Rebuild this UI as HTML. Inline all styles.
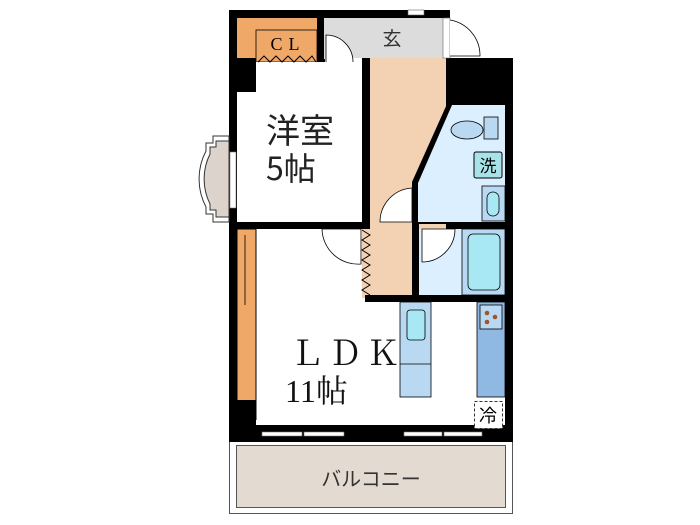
<!DOCTYPE html><html><head><meta charset="utf-8"><style>body{margin:0;background:#fff}svg{display:block}</style></head><body>
<svg width="700" height="525" viewBox="0 0 700 525" xmlns="http://www.w3.org/2000/svg" font-family="Liberation Serif, 'Noto Serif CJK SC', serif">
<rect x="229.5" y="440.5" width="283" height="73" fill="#fff" stroke="#555"/>
<rect x="236.5" y="445.5" width="269" height="62" fill="#e3dad1" stroke="#555"/>
<text x="371" y="486" font-size="20" text-anchor="middle" fill="#333" font-family="'Noto Sans CJK JP',sans-serif">バルコニー</text>
<rect x="229" y="10" width="221" height="52" fill="#000"/>
<rect x="229" y="10" width="9" height="432" fill="#000"/>
<rect x="443" y="58" width="70" height="384" fill="#000"/>
<rect x="229" y="425" width="284" height="17" fill="#000"/>
<rect x="237" y="18" width="80" height="44" fill="#f0a868"/>
<rect x="256" y="30" width="61" height="32" fill="#f0a868" stroke="#000" stroke-width="0.8"/>
<text x="288" y="50" font-size="18" text-anchor="middle" letter-spacing="6">CL</text>
<rect x="324" y="18" width="119" height="41" fill="#dcdcdc"/>
<text x="392" y="45" font-size="19" text-anchor="middle" fill="#333" font-family="'Noto Sans CJK JP',sans-serif">玄</text>
<rect x="408" y="10" width="16" height="5" fill="#fff" stroke="#666" stroke-width="0.6"/>
<rect x="362" y="58" width="84" height="240" fill="#f3d2b4"/>
<rect x="237" y="62" width="125" height="162" fill="#fff"/>
<rect x="237" y="58" width="19" height="34" fill="#000"/>
<rect x="362" y="58" width="8" height="168" fill="#000"/>
<rect x="229" y="222" width="141" height="7" fill="#000"/>
<text x="266" y="143" font-size="34" font-family="'Noto Sans CJK JP',sans-serif" fill="#222">洋室</text>
<text x="266" y="180" font-size="32" font-family="'Noto Sans CJK JP',sans-serif" fill="#222">5帖</text>
<polyline points="258,62 264,56 270,62 276,56 282,62 288,56 294,62 300,56 306,62 312,56 316,62" fill="none" stroke="#000"/>
<rect x="325" y="58" width="37" height="4" fill="#fff"/>
<path d="M326,62 V35 A27,27 0 0 1 353,62" fill="#fff" stroke="#000" stroke-width="0.8"/>
<rect x="443" y="18" width="7" height="40" fill="#fff" stroke="#666" stroke-width="0.6"/>
<path d="M450,20 A36,36 0 0 1 480,56 H450" fill="#fff" stroke="#000" stroke-width="0.8"/>
<path d="M229,136 H213 V143 H206 V151 A60,60 0 0 0 206,207 V214 H213 V222 H229 Z" fill="#fff" stroke="#333"/>
<path d="M229,141 H216 V147 H210 V154 A56,56 0 0 0 210,204 V210 H216 V217 H229 Z" fill="#dcd4cc" stroke="#333"/>
<rect x="230" y="152" width="6" height="56" fill="#fff" stroke="#777" stroke-width="0.6"/>
<polygon points="447,104 505,104 505,224 412,224 412,182" fill="#000"/>
<polygon points="452,105 505,105 505,222 418,222 418,183" fill="#dcefff"/>
<ellipse cx="467" cy="130" rx="16" ry="9" fill="#b9d9f2" stroke="#000" stroke-width="0.8"/>
<rect x="484" y="117" width="14" height="22" fill="#b9d9f2" stroke="#000" stroke-width="0.8"/>
<rect x="474" y="152" width="28" height="26" rx="2" fill="#a7e3e8" stroke="#000" stroke-width="1"/>
<text x="488" y="172" font-size="17" text-anchor="middle" font-family="'Noto Sans CJK JP',sans-serif">洗</text>
<rect x="482" y="186" width="23" height="35" fill="#b9d9f2" stroke="#000" stroke-width="0.8"/>
<rect x="487" y="192" width="12" height="24" rx="6" fill="#a7e8f4" stroke="#000" stroke-width="0.8"/>
<path d="M412,188 V222 H380 A34,34 0 0 1 412,188" fill="#fff" stroke="#000" stroke-width="0.8"/>
<rect x="412" y="224" width="7" height="78" fill="#000"/>
<rect x="419" y="229" width="86" height="66" fill="#dcefff"/>
<rect x="462" y="229" width="43" height="66" fill="#b9d9f2" stroke="#000" stroke-width="0.8"/>
<rect x="468" y="234" width="32" height="56" rx="5" fill="#a7e8f4" stroke="#000" stroke-width="0.8"/>
<path d="M422,229 H455 A33,33 0 0 1 422,262 Z" fill="#fff" stroke="#000" stroke-width="0.8"/>
<rect x="365" y="295" width="140" height="7" fill="#000"/>
<rect x="237" y="229" width="125" height="73" fill="#fff"/>
<rect x="256" y="302" width="249" height="123" fill="#fff"/>
<rect x="237" y="229" width="19" height="201" fill="#f0a868" stroke="#000" stroke-width="1"/>
<line x1="245" y1="235" x2="245" y2="305" stroke="#000" stroke-width="0.8"/>
<rect x="256" y="420" width="249" height="5" fill="#fff"/>
<rect x="229" y="400" width="27" height="42" fill="#000"/>
<rect x="485" y="432" width="28" height="10" fill="#000"/>
<rect x="262" y="432" width="40" height="4" fill="#fff" stroke="#777" stroke-width="0.6"/>
<rect x="304" y="432" width="40" height="4" fill="#fff" stroke="#777" stroke-width="0.6"/>
<rect x="404" y="432" width="38" height="4" fill="#fff" stroke="#777" stroke-width="0.6"/>
<rect x="444" y="432" width="38" height="4" fill="#fff" stroke="#777" stroke-width="0.6"/>
<path d="M322,229 H361 V264 A36,36 0 0 1 322,229" fill="#fff" stroke="#000" stroke-width="0.8"/>
<polyline points="362,230 370,235 362,240 370,245 362,250 370,255 362,260 370,265 362,270 370,275 362,280 370,285 362,290 370,295" fill="none" stroke="#000"/>
<text x="290" y="365" font-size="34" fill="#111" letter-spacing="4">ＬＤＫ</text>
<text x="285" y="402" font-size="32" fill="#111">11帖</text>
<rect x="400" y="302" width="31" height="95" fill="#b9d9f2" stroke="#000" stroke-width="0.8"/>
<line x1="400" y1="364" x2="431" y2="364" stroke="#000" stroke-width="0.8"/>
<rect x="407" y="310" width="18" height="30" rx="3" fill="#a7e8f4" stroke="#000" stroke-width="0.8"/>
<rect x="477" y="302" width="28" height="95" fill="#8fb8e2" stroke="#000" stroke-width="0.8"/>
<rect x="480" y="305" width="22" height="24" fill="#b9d9f2" stroke="#000" stroke-width="0.8"/>
<circle cx="487" cy="313" r="2.3" fill="#a0522d"/><circle cx="487" cy="322" r="2.3" fill="#a0522d"/><circle cx="495" cy="317" r="2.3" fill="#a0522d"/>
<rect x="474.5" y="401.5" width="28" height="27" fill="#fff" stroke="#333" stroke-dasharray="3,2"/>
<text x="488" y="422" font-size="18" text-anchor="middle" font-family="'Noto Sans CJK JP',sans-serif">冷</text>
</svg></body></html>
